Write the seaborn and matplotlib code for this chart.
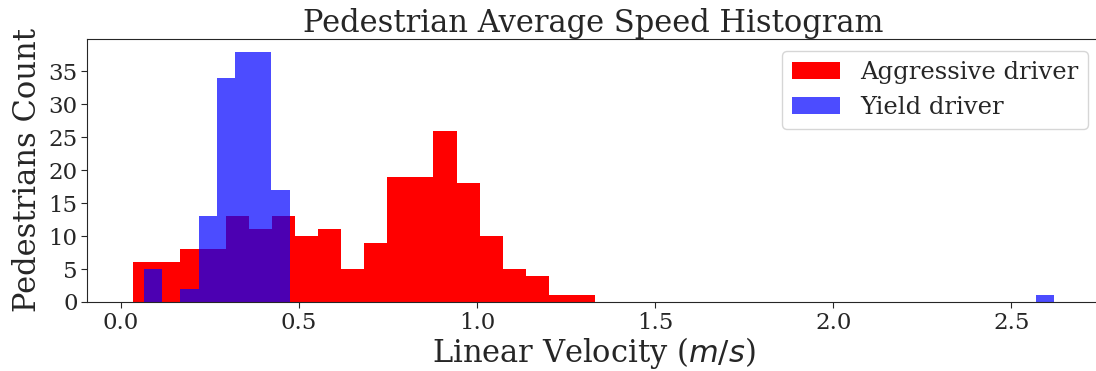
import numpy as np
import pandas as pd
import matplotlib
matplotlib.use("Agg")
import matplotlib.pyplot as plt
import seaborn as sns

# Aggressive driver histogram (20 equal bins)
agg_range = (0.0346, 1.331)
agg_counts = [6, 6, 8, 8, 13, 11, 13, 10, 11, 5, 9, 19, 19, 26, 18, 10, 5, 4, 1, 1]

# Yield driver histogram (50 equal bins)
yield_range = (0.0646, 2.62)
yield_counts = [5, 0, 2, 13, 34, 38, 38, 17] + [0] * 41 + [1]

title = "Pedestrian Average Speed Histogram"
xlabel = "Linear Velocity ($m/s$)"
ylabel = "Pedestrians Count"
labels = ["Aggressive driver", "Yield driver"]

sns.set_style("ticks")
plt.rcParams["font.family"] = ["DejaVu Serif"]

fig = plt.figure(figsize=(10.96, 3.71), dpi=100)
ax = fig.add_axes([87.3 / 1096, (371 - 302) / 371, (1100 - 87.3) / 1096, (302 - 39) / 371])

agg_edges = np.linspace(agg_range[0], agg_range[1], len(agg_counts) + 1)
yield_edges = np.linspace(yield_range[0], yield_range[1], len(yield_counts) + 1)
agg_df = pd.DataFrame({"v": (agg_edges[:-1] + agg_edges[1:]) / 2, "n": agg_counts})
yield_df = pd.DataFrame({"v": (yield_edges[:-1] + yield_edges[1:]) / 2, "n": yield_counts})

sns.histplot(data=agg_df, x="v", weights="n", bins=[float(b) for b in agg_edges], color="red",
             alpha=1.0, linewidth=0, ax=ax, label=labels[0])
sns.histplot(data=yield_df, x="v", weights="n", bins=[float(b) for b in yield_edges], color="blue",
             alpha=0.7, linewidth=0, ax=ax, label=labels[1])

ax.set_xlim(-0.0947, 2.749)
ax.set_ylim(0, 39.9)
ax.set_xticks([0.0, 0.5, 1.0, 1.5, 2.0, 2.5])
ax.set_yticks(range(0, 40, 5))
ax.tick_params(labelsize=16.5, length=4, pad=3)
ax.set_title(title, fontsize=22, pad=5)
ax.set_xlabel(xlabel, fontsize=22, labelpad=1)
ax.set_ylabel(ylabel, fontsize=22, labelpad=4)
ax.legend(loc="upper right", fontsize=17.5)

fig.savefig("out.png", dpi=100)
